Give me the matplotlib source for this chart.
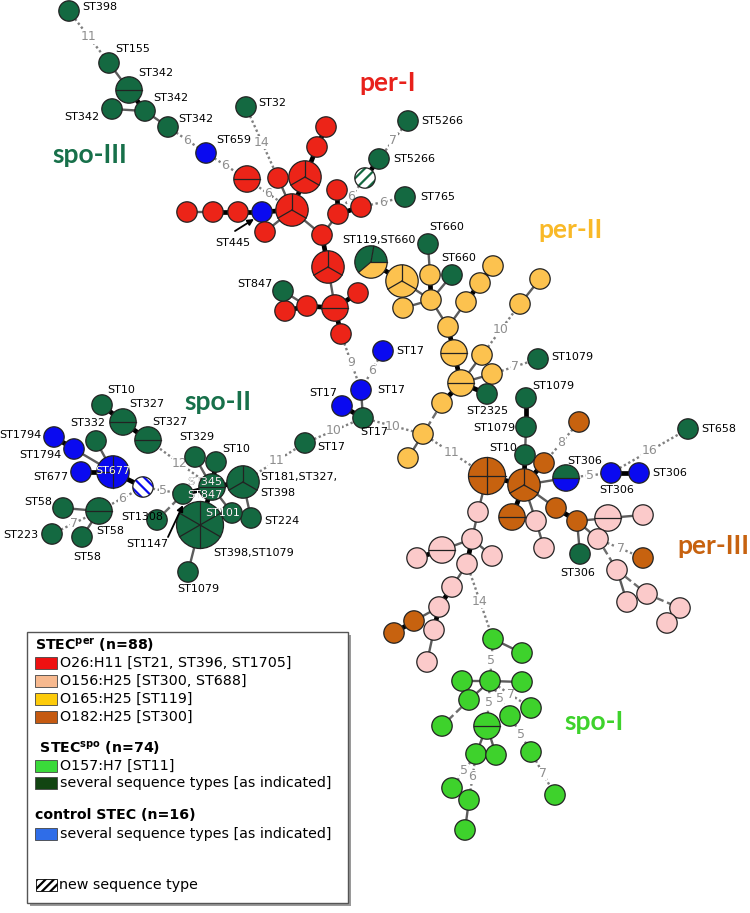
import matplotlib
matplotlib.use('Agg')
import matplotlib.pyplot as plt
from matplotlib.patches import Circle, Wedge, Rectangle
import numpy as np

plt.rcParams['hatch.linewidth'] = 1.6

# ---------------- data ----------------
# nodes: (id, x, y, isolates, type)  type: colour code, mixed codes, or hatched 'hG'/'hB'
nodes_spo3 = [('s3a', 69, 11, 1, 'G'), ('s3b', 109, 63, 1, 'G'), ('s3c', 129, 90, 2, 'G'),
              ('s3d', 145, 111, 1, 'G'), ('s3e', 112, 109, 1, 'G'), ('s3f', 168, 127, 1, 'G'),
              ('b659', 206, 153, 1, 'B')]
nodes_per1 = [('r1', 247, 179, 2, 'R'), ('g32', 246, 107, 1, 'G'), ('r2', 278, 178, 1, 'R'),
              ('r3', 292, 210, 3, 'R'), ('b445', 262, 212, 1, 'B'), ('r4', 238, 212, 1, 'R'),
              ('r5', 213, 212, 1, 'R'), ('r6', 187, 212, 1, 'R'), ('r7', 265, 232, 1, 'R'),
              ('r8', 305, 177, 3, 'R'), ('r9', 317, 147, 1, 'R'), ('r10', 326, 127, 1, 'R'),
              ('r11', 322, 235, 1, 'R'), ('r12', 338, 214, 1, 'R'), ('r13', 337, 190, 1, 'R'),
              ('r14', 361, 207, 1, 'R'), ('r15', 328, 267, 3, 'R'), ('r16', 335, 308, 2, 'R'),
              ('r17', 358, 293, 1, 'R'), ('r18', 307, 306, 1, 'R'), ('r19', 285, 311, 1, 'R'),
              ('g847', 283, 291, 1, 'G'), ('r20', 341, 334, 1, 'R'),
              ('g5266a', 408, 121, 1, 'G'), ('g5266b', 379, 159, 1, 'G'), ('h5266', 365, 178, 1, 'hG'),
              ('g765', 405, 197, 1, 'G')]
nodes_per2 = [('m119', 371, 262, 3, 'GYG'), ('y1', 402, 281, 3, 'Y'), ('g660a', 428, 244, 1, 'G'),
              ('y2', 430, 275, 1, 'Y'), ('y3', 431, 300, 1, 'Y'), ('y4', 403, 308, 1, 'Y'),
              ('g660b', 452, 275, 1, 'G'), ('y5', 448, 327, 1, 'Y'), ('y6', 466, 302, 1, 'Y'),
              ('y7', 480, 283, 1, 'Y'), ('y8', 493, 266, 1, 'Y'), ('y9', 520, 304, 1, 'Y'),
              ('y10', 540, 279, 1, 'Y'), ('y11', 454, 353, 2, 'Y'), ('y12', 461, 383, 2, 'Y'),
              ('y13', 482, 355, 1, 'Y'), ('y14', 492, 374, 1, 'Y'), ('g1079a', 538, 359, 1, 'G'),
              ('g2325', 487, 394, 1, 'G'), ('y15', 442, 403, 1, 'Y'), ('y16', 423, 434, 1, 'Y'),
              ('y17', 408, 458, 1, 'Y')]
nodes_st17 = [('b17a', 383, 351, 1, 'B'), ('b17b', 361, 390, 1, 'B'), ('b17c', 342, 406, 1, 'B'),
              ('g17a', 363, 418, 1, 'G'), ('g17b', 305, 443, 1, 'G')]
nodes_spo2 = [('g10a', 102, 405, 1, 'G'), ('g327a', 123, 422, 2, 'G'), ('g327b', 148, 440, 2, 'G'),
              ('g332', 96, 441, 1, 'G'), ('b1794a', 54, 437, 1, 'B'), ('b1794b', 74, 449, 1, 'B'),
              ('b677a', 81, 472, 1, 'B'), ('b677', 113, 472, 3, 'B'), ('hb', 143, 487, 1, 'hB'),
              ('g58a', 99, 511, 2, 'G'), ('g58b', 63, 508, 1, 'G'), ('g223', 52, 534, 1, 'G'),
              ('g58c', 82, 537, 1, 'G'), ('g1308', 157, 520, 1, 'G'), ('g1147', 183, 494, 1, 'G'),
              ('g329', 195, 457, 1, 'G'), ('g10b', 216, 462, 1, 'G'), ('g345', 212, 487, 2, 'G'),
              ('g181', 243, 482, 3, 'G'), ('g224', 251, 518, 1, 'G'), ('g101', 232, 513, 1, 'G'),
              ('g398', 200, 525, 6, 'G'), ('g1079c', 188, 572, 1, 'G')]
nodes_per3 = [('o4', 487, 476, 4, 'O'), ('o3', 524, 485, 3, 'O'), ('g10c', 525, 455, 1, 'G'),
              ('g1079b', 526, 427, 1, 'G'), ('g1079d', 526, 398, 1, 'G'), ('o1', 544, 463, 1, 'O'),
              ('o2', 579, 422, 1, 'O'), ('m306', 566, 478, 2, 'GB'), ('b306a', 611, 473, 1, 'B'),
              ('b306b', 639, 473, 1, 'B'), ('g658', 688, 429, 1, 'G'), ('o5', 512, 517, 2, 'O'),
              ('p1', 536, 521, 1, 'P'), ('p2', 544, 548, 1, 'P'), ('o6', 556, 508, 1, 'O'),
              ('o7', 577, 521, 1, 'O'), ('p3', 608, 518, 2, 'P'), ('p4', 643, 515, 1, 'P'),
              ('g306', 580, 554, 1, 'G'), ('p5', 598, 539, 1, 'P'), ('o8', 643, 558, 1, 'O'),
              ('p6', 617, 570, 1, 'P'), ('p7', 627, 602, 1, 'P'), ('p8', 647, 594, 1, 'P'),
              ('p9', 680, 608, 1, 'P'), ('p10', 667, 623, 1, 'P'), ('p11', 478, 512, 1, 'P'),
              ('p12', 472, 539, 1, 'P'), ('p13', 442, 550, 2, 'P'), ('p14', 417, 558, 1, 'P'),
              ('p15', 492, 556, 1, 'P'), ('p16', 467, 564, 1, 'P'), ('p17', 452, 587, 1, 'P'),
              ('p18', 439, 607, 1, 'P'), ('o9', 414, 621, 1, 'O'), ('o10', 394, 633, 1, 'O'),
              ('p19', 434, 630, 1, 'P'), ('p20', 427, 662, 1, 'P')]
nodes_spo1 = [('l1', 493, 639, 1, 'L'), ('l2', 522, 653, 1, 'L'), ('l3', 490, 681, 1, 'L'),
              ('l4', 462, 681, 1, 'L'), ('l5', 522, 682, 1, 'L'), ('l6', 469, 700, 1, 'L'),
              ('l7', 442, 726, 1, 'L'), ('l8', 487, 726, 2, 'L'), ('l9', 510, 716, 1, 'L'),
              ('l10', 531, 708, 1, 'L'), ('l11', 476, 754, 1, 'L'), ('l12', 496, 755, 1, 'L'),
              ('l13', 531, 752, 1, 'L'), ('l14', 452, 788, 1, 'L'), ('l15', 469, 800, 1, 'L'),
              ('l16', 465, 830, 1, 'L'), ('l17', 555, 795, 1, 'L')]

# edges: (from, to, style, allele distance label)
edges_spo3 = [('s3a', 's3b', 'dot', '11'), ('s3b', 's3c', 'solid', ''), ('s3c', 's3d', 'thick', ''),
              ('s3e', 's3d', 'solid', ''), ('s3d', 's3f', 'solid', ''), ('s3f', 'b659', 'dot', '6'),
              ('b659', 'r1', 'dot', '6')]
edges_per1 = [('r1', 'r3', 'dot', '6'), ('g32', 'r2', 'dot', '14'), ('r2', 'r3', 'solid', ''),
              ('r6', 'r5', 'solid', ''), ('r5', 'r4', 'thick', ''), ('r4', 'b445', 'thick', ''),
              ('b445', 'r3', 'thick', ''), ('r7', 'r3', 'solid', ''), ('r8', 'r3', 'thick', ''),
              ('r9', 'r8', 'thick', ''), ('r10', 'r9', 'thick', ''), ('r11', 'r3', 'solid', ''),
              ('r12', 'r11', 'solid', ''), ('r12', 'r13', 'thick', ''), ('r12', 'r14', 'thick', ''),
              ('r11', 'r15', 'thick', ''), ('r15', 'r16', 'solid', ''), ('r17', 'r16', 'thick', ''),
              ('r18', 'r16', 'thick', ''), ('r19', 'r18', 'thick', ''), ('g847', 'r18', 'solid', ''),
              ('r20', 'r16', 'thick', ''), ('r20', 'b17b', 'dot', '9'),
              ('g5266a', 'g5266b', 'dot', '7'), ('g5266b', 'h5266', 'thick', ''),
              ('h5266', 'r12', 'dot', '6'), ('r14', 'g765', 'dot', '6')]
edges_per2 = [('m119', 'y1', 'thick', ''), ('y1', 'y3', 'solid', ''), ('y4', 'y3', 'solid', ''),
              ('y2', 'y3', 'thick', ''), ('g660a', 'y2', 'solid', ''), ('g660b', 'y3', 'solid', ''),
              ('y3', 'y5', 'solid', ''), ('y5', 'y6', 'solid', ''), ('y6', 'y7', 'thick', ''),
              ('y7', 'y8', 'thick', ''), ('y5', 'y11', 'thick', ''), ('y11', 'y12', 'thick', ''),
              ('y12', 'y13', 'solid', ''), ('y12', 'y14', 'solid', ''), ('y12', 'g2325', 'thick', ''),
              ('y12', 'y15', 'thick', ''), ('y15', 'y16', 'dash', ''), ('y16', 'y17', 'solid', ''),
              ('y13', 'y9', 'dot', '10'), ('y9', 'y10', 'solid', ''), ('y14', 'g1079a', 'dot', '7'),
              ('y16', 'o4', 'dot', '11')]
edges_st17 = [('b17a', 'b17b', 'dot', '6'), ('b17b', 'g17a', 'solid', ''), ('b17c', 'g17a', 'thick', ''),
              ('g17a', 'y16', 'dot', '10'), ('g17b', 'g17a', 'dot', '10')]
edges_spo2 = [('g181', 'g17b', 'dot', '11'), ('g10a', 'g327a', 'thick', ''), ('g327a', 'g327b', 'thick', ''),
              ('g327b', 'g345', 'dot', '12'), ('g332', 'b677', 'solid', ''), ('b1794a', 'b1794b', 'thick', ''),
              ('b1794b', 'b677', 'solid', ''), ('b677a', 'b677', 'thick', ''), ('b677', 'hb', 'thick', ''),
              ('hb', 'g1147', 'dot', '5'), ('g58a', 'hb', 'dot', '6'), ('g58b', 'g58a', 'solid', ''),
              ('g58c', 'g58a', 'solid', ''), ('g223', 'g58a', 'dot', '7'), ('g1308', 'g1147', 'dash', ''),
              ('g1147', 'g345', 'thick', ''), ('g329', 'g345', 'solid', ''), ('g10b', 'g345', 'thick', ''),
              ('g345', 'g181', 'thick', ''), ('g181', 'g224', 'solid', ''), ('g101', 'g345', 'solid', ''),
              ('g398', 'g345', 'thick', ''), ('g1079c', 'g398', 'solid', '')]
edges_per3 = [('g1079d', 'g1079b', 'thick', ''), ('g1079b', 'g10c', 'solid', ''), ('g10c', 'o3', 'thick', ''),
              ('o4', 'o3', 'thick', ''), ('o1', 'o3', 'thick', ''), ('o2', 'o1', 'dot', '8'),
              ('m306', 'o3', 'solid', ''), ('m306', 'b306a', 'dot', '5'), ('b306a', 'b306b', 'thick', ''),
              ('b306a', 'g658', 'dot', '16'), ('o5', 'o3', 'thick', ''), ('p1', 'o3', 'solid', ''),
              ('p1', 'p2', 'solid', ''), ('o6', 'o3', 'solid', ''), ('o6', 'o7', 'thick', ''),
              ('o7', 'p3', 'solid', ''), ('p3', 'p4', 'solid', ''), ('o7', 'g306', 'solid', ''),
              ('o7', 'p5', 'solid', ''), ('p5', 'o8', 'dot', '7'), ('p5', 'p6', 'dash', ''),
              ('p6', 'p7', 'solid', ''), ('p6', 'p8', 'dash', ''), ('p8', 'p9', 'dash', ''),
              ('p9', 'p10', 'dash', ''), ('o4', 'p11', 'solid', ''), ('p11', 'p12', 'solid', ''),
              ('p12', 'p13', 'solid', ''), ('p13', 'p14', 'thick', ''), ('p12', 'p16', 'thick', ''),
              ('p12', 'p15', 'solid', ''), ('p16', 'p17', 'solid', ''), ('p17', 'p18', 'thick', ''),
              ('p18', 'o9', 'solid', ''), ('o9', 'o10', 'thick', ''), ('p18', 'p19', 'thick', ''),
              ('p19', 'p20', 'solid', ''), ('p16', 'l1', 'dot', '14')]
edges_spo1 = [('l1', 'l2', 'solid', ''), ('l1', 'l3', 'dot', '5'), ('l3', 'l4', 'solid', ''),
              ('l3', 'l5', 'solid', ''), ('l3', 'l6', 'solid', ''), ('l6', 'l7', 'dash', ''),
              ('l3', 'l8', 'dot', '5'), ('l3', 'l9', 'dot', '5'), ('l3', 'l10', 'dot', '7'),
              ('l9', 'l13', 'dot', '5'), ('l8', 'l11', 'solid', ''), ('l8', 'l12', 'solid', ''),
              ('l11', 'l14', 'dot', '5'), ('l11', 'l15', 'dot', '6'), ('l15', 'l16', 'solid', ''),
              ('l13', 'l17', 'dot', '7')]

# node labels: (node, text, dx, dy, ha)
labels_nodes = [
    ('s3a', 'ST398', 13, -4, 'left'), ('s3b', 'ST155', 6, -14, 'left'), ('s3c', 'ST342', 9, -17, 'left'),
    ('s3d', 'ST342', 8, -13, 'left'), ('s3e', 'ST342', -13, 8, 'right'), ('s3f', 'ST342', 10, -8, 'left'),
    ('b659', 'ST659', 10, -13, 'left'), ('g32', 'ST32', 12, -4, 'left'),
    ('g5266a', 'ST5266', 13, 0, 'left'), ('g5266b', 'ST5266', 14, 0, 'left'), ('g765', 'ST765', 15, 0, 'left'),
    ('g847', 'ST847', -11, -7, 'right'), ('m119', 'ST119,ST660', 8, -22, 'center'),
    ('g660a', 'ST660', 19, -17, 'center'), ('g660b', 'ST660', 7, -17, 'center'),
    ('g1079a', 'ST1079', 13, -2, 'left'), ('g2325', 'ST2325', 0, 17, 'center'),
    ('b17a', 'ST17', 13, 0, 'left'), ('b17b', 'ST17', 16, 0, 'left'), ('b17c', 'ST17', -5, -13, 'right'),
    ('g17a', 'ST17', -3, 14, 'left'), ('g17b', 'ST17', 12, 4, 'left'),
    ('g10a', 'ST10', 5, -15, 'left'), ('g327a', 'ST327', 6, -18, 'left'), ('g327b', 'ST327', 4, -18, 'left'),
    ('g332', 'ST332', -8, -18, 'center'), ('b1794a', 'ST1794', -12, -2, 'right'),
    ('b1794b', 'ST1794', -12, 6, 'right'), ('b677a', 'ST677', -13, 5, 'right'),
    ('g58a', 'ST58', 11, 20, 'center'), ('g58b', 'ST58', -11, -6, 'right'), ('g223', 'ST223', -14, 1, 'right'),
    ('g58c', 'ST58', 5, 20, 'center'), ('g1308', 'ST1308', -15, -3, 'center'),
    ('g329', 'ST329', 2, -20, 'center'), ('g10b', 'ST10', 6, -13, 'left'),
    ('g181', 'ST181,ST327,', 17, -5, 'left'), ('g181', 'ST398', 17, 11, 'left'),
    ('g224', 'ST224', 13, 3, 'left'), ('g398', 'ST398,ST1079', 13, 28, 'left'),
    ('g1079c', 'ST1079', 10, 17, 'center'),
    ('g10c', 'ST10', -8, -7, 'right'), ('g1079b', 'ST1079', -11, 1, 'right'),
    ('g1079d', 'ST1079', 6, -12, 'left'), ('m306', 'ST306', 1, -17, 'left'),
    ('b306a', 'ST306', 6, 17, 'center'), ('b306b', 'ST306', 13, 0, 'left'),
    ('g658', 'ST658', 13, 0, 'left'), ('g306', 'ST306', -2, 19, 'center')]
# labels partly drawn over their node (white where inside)
labels_inside = [('b677', 'ST677', 0, -1), ('g345', 'ST345', -7, -5), ('g345', 'ST847', -7, 8),
                 ('g101', 'ST101', -9, 0)]
# labels with arrows: (node, text, text dx, dy, arrow start dx, dy, arrow tip dx, dy)
labels_arrow = [('b445', 'ST445', -29, 31, -27, 19, -8, 7), ('g1147', 'ST1147', -36, 50, -15, 43, 0, 11)]

cluster_names = ['per-I', 'spo-III', 'per-II', 'spo-II', 'per-III', 'spo-I']
cluster_x = [388, 90, 570, 218, 713, 594]
cluster_y = [83, 155, 230, 402, 546, 722]
cluster_col = ['#e8211b', '#17704a', '#f9b928', '#17704a', '#c7620f', '#3ed22c']

legend_groups = [r'STEC$^{\mathbf{per}}$ (n=88)', r' STEC$^{\mathbf{spo}}$ (n=74)', 'control STEC (n=16)']
legend_items = [('#ee1111', 'O26:H11 [ST21, ST396, ST1705]'), ('#f7b98f', 'O156:H25 [ST300, ST688]'),
                ('#fdcb0a', 'O165:H25 [ST119]'), ('#c55a11', 'O182:H25 [ST300]'),
                ('#3ada3a', 'O157:H7 [ST11]'), ('#124512', 'several sequence types [as indicated]'),
                ('#2f6de8', 'several sequence types [as indicated]')]
legend_hatch_text = 'new sequence type'

# ---------------- style ----------------
COL = {'G': '#146941', 'B': '#0a0af0', 'R': '#ec2418', 'Y': '#fcc24f', 'O': '#c7620f',
       'P': '#fbcaca', 'L': '#3ed22c'}
RAD = {1: 10.2, 2: 13.2, 3: 16.2, 4: 18.5, 6: 23.5}
SPLIT = {2: [0, 180], 3: [90, 210, 330], 4: [0, 90, 180, 270], 6: [90, 150, 210, 270, 330, 30]}
SPLIT_NODE = {'m119': [80, 220, 0], 'b677': [90, 180, 270]}

fig = plt.figure(figsize=(7.5, 9.13), dpi=100)
ax = fig.add_axes([0, 0, 1, 1])
ax.set_xlim(0, 750)
ax.set_ylim(913, 0)
ax.axis('off')

all_nodes = nodes_spo3 + nodes_per1 + nodes_per2 + nodes_st17 + nodes_spo2 + nodes_per3 + nodes_spo1
pos = {n[0]: (n[1], n[2]) for n in all_nodes}
rad = {n[0]: RAD[n[3]] for n in all_nodes}
circ = {}

# edges
for e in edges_spo3 + edges_per1 + edges_per2 + edges_st17 + edges_spo2 + edges_per3 + edges_spo1:
    a, b, st, lab = e
    (x1, y1), (x2, y2) = pos[a], pos[b]
    if st == 'thick':
        ax.plot([x1, x2], [y1, y2], color='black', lw=3.4, zorder=1, solid_capstyle='butt')
    elif st == 'solid':
        ax.plot([x1, x2], [y1, y2], color='#5c5c5c', lw=1.7, zorder=1)
    elif st == 'dash':
        ax.plot([x1, x2], [y1, y2], color='#6e6e6e', lw=1.7, zorder=1, ls=(0, (3, 1.6)))
    else:
        ax.plot([x1, x2], [y1, y2], color='#808080', lw=1.7, zorder=1, ls=(0, (1, 1.1)),
                dash_capstyle='butt')
    if lab:
        d = np.hypot(x2 - x1, y2 - y1)
        ux, uy = (x2 - x1) / d, (y2 - y1) / d
        sx, sy = x1 + ux * rad[a], y1 + uy * rad[a]
        ex, ey = x2 - ux * rad[b], y2 - uy * rad[b]
        ax.text((sx + ex) / 2, (sy + ey) / 2, lab, fontsize=9, color='#8e8e8e', ha='center',
                va='center', zorder=2, bbox=dict(facecolor='white', edgecolor='none', pad=0.2))

# nodes
for nid, x, y, n, t in all_nodes:
    r = RAD[n]
    angs = SPLIT_NODE.get(nid, SPLIT.get(n, []))
    if t.startswith('h'):
        stripe = COL[t[1]]
        hatch = '///' if t[1] == 'G' else '\\\\\\'
        ax.add_patch(Circle((x, y), r, facecolor='white', edgecolor=stripe, hatch=hatch, lw=0, zorder=3))
        c = Circle((x, y), r, facecolor='none', edgecolor='#222222', lw=0.9, zorder=3.2)
        ax.add_patch(c)
    elif len(t) > 1:
        for k, code in enumerate(t):
            p1 = angs[k]
            p2 = angs[(k + 1) % len(angs)]
            if p2 <= p1:
                p2 += 360
            ax.add_patch(Wedge((x, y), r, -p2, -p1, facecolor=COL[code], edgecolor='none', zorder=3))
        c = Circle((x, y), r, facecolor='none', edgecolor='#222222', lw=0.9, zorder=3.2)
        ax.add_patch(c)
    else:
        c = Circle((x, y), r, facecolor=COL[t], edgecolor='#222222', lw=0.9, zorder=3)
        ax.add_patch(c)
    circ[nid] = c
    if n == 2:
        ax.plot([x - r, x + r], [y, y], color='#222222', lw=0.9, zorder=3.3)
    elif n > 2:
        for phi in angs:
            ph = np.radians(phi)
            ax.plot([x, x + r * np.cos(ph)], [y, y - r * np.sin(ph)], color='#222222', lw=0.9, zorder=3.3)

# node labels
for nid, txt, dx, dy, ha in labels_nodes:
    x, y = pos[nid]
    ax.text(x + dx, y + dy, txt, fontsize=8, ha=ha, va='center', color='black', zorder=6)
for nid, txt, dx, dy in labels_inside:
    x, y = pos[nid]
    ax.text(x + dx, y + dy, txt, fontsize=8, ha='center', va='center', color='black', zorder=6)
    tw = ax.text(x + dx, y + dy, txt, fontsize=8, ha='center', va='center', color='white', zorder=7)
    tw.set_clip_path(circ[nid])
for nid, txt, dx, dy, sx, sy, tx, ty in labels_arrow:
    x, y = pos[nid]
    ax.annotate('', xy=(x + tx, y + ty), xytext=(x + sx, y + sy),
                arrowprops=dict(arrowstyle='-|>', color='black', lw=1.3, mutation_scale=9,
                                shrinkA=0, shrinkB=0), zorder=6)
    ax.text(x + dx, y + dy, txt, fontsize=8, ha='center', va='center', zorder=6)

# cluster names
for nm, cx, cy, cc in zip(cluster_names, cluster_x, cluster_y, cluster_col):
    ax.text(cx, cy, nm, fontsize=19, fontweight='bold', family='Lato', color=cc, ha='center',
            va='center', zorder=6)

# legend
ax.add_patch(Rectangle((30, 635), 321, 271, facecolor='#9a9a9a', edgecolor='none', zorder=7))
ax.add_patch(Rectangle((27, 632), 321, 271, facecolor='white', edgecolor='#555555', lw=1.0, zorder=8))
group_y = [645, 748, 815]
item_y = [663, 681, 699, 717, 766, 783, 834]
for g, gy in zip(legend_groups, group_y):
    ax.text(35, gy, g, fontsize=10.2, fontweight='bold', ha='left', va='center', zorder=9)
for (c, t), iy in zip(legend_items, item_y):
    ax.add_patch(Rectangle((35, iy - 6), 22, 12, facecolor=c, edgecolor='#444444', lw=0.6, zorder=9))
    ax.text(60, iy, t, fontsize=10.3, ha='left', va='center', zorder=9)
ax.add_patch(Rectangle((36, 879), 21, 12, facecolor='white', edgecolor='black', hatch='////', lw=0.6, zorder=9))
ax.text(59, 885, legend_hatch_text, fontsize=10.3, ha='left', va='center', zorder=9)

fig.savefig('out.png', dpi=100, facecolor='white')
